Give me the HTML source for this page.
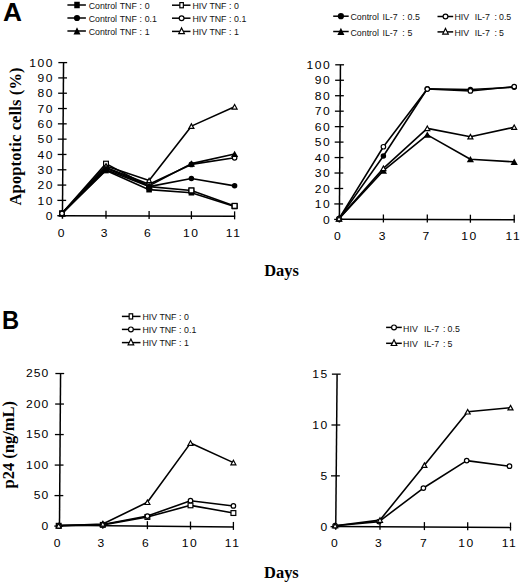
<!DOCTYPE html>
<html><head><meta charset="utf-8"><style>
html,body{margin:0;padding:0;background:#fff;}
body{width:520px;height:584px;overflow:hidden;}
svg{display:block;}
.tl{font-family:"Liberation Sans", sans-serif;font-size:10.8px;letter-spacing:1.36px;fill:#000;}
.lg{font-family:"Liberation Sans", sans-serif;font-size:8.8px;fill:#111;}
.pl{font-family:"Liberation Sans", sans-serif;font-size:25px;font-weight:bold;fill:#000;}
.at{font-family:"Liberation Serif", serif;font-size:16.5px;font-weight:bold;fill:#000;}
</style></head><body>
<svg width="520" height="584" viewBox="0 0 520 584">
<text transform="translate(2.9,20.7) scale(1.05,1)" class="pl">A</text>
<text transform="translate(1.9,328.6) scale(0.95,1)" class="pl">B</text>
<line x1="67.4" y1="5.00" x2="85.9" y2="5.00" stroke="#000" stroke-width="1.5"/>
<rect x="74.25" y="1.75" width="5.5" height="6.5" fill="#000"/>
<text x="88.72" y="8.50" class="lg">Control</text>
<text x="119.68" y="8.50" class="lg">TNF</text>
<text x="139.38" y="8.50" class="lg">:</text>
<text x="144.72" y="8.50" class="lg">0</text>
<line x1="67.4" y1="18.00" x2="85.9" y2="18.00" stroke="#000" stroke-width="1.5"/>
<circle cx="77.00" cy="18.00" r="3.10" fill="#000"/>
<text x="88.72" y="21.60" class="lg">Control</text>
<text x="119.68" y="21.60" class="lg">TNF</text>
<text x="139.38" y="21.60" class="lg">:</text>
<text x="144.72" y="21.60" class="lg">0.1</text>
<line x1="67.4" y1="31.00" x2="85.9" y2="31.00" stroke="#000" stroke-width="1.5"/>
<polygon points="77.00,27.20 80.50,34.40 73.50,34.40" fill="#000"/>
<text x="88.72" y="34.50" class="lg">Control</text>
<text x="119.68" y="34.50" class="lg">TNF</text>
<text x="139.38" y="34.50" class="lg">:</text>
<text x="144.72" y="34.50" class="lg">1</text>
<line x1="172" y1="5.20" x2="190.5" y2="5.20" stroke="#000" stroke-width="1.5"/>
<rect x="179.85" y="2.60" width="3.5" height="5.2" fill="#fff" stroke="#000" stroke-width="1.2"/>
<text x="192.38" y="8.80" class="lg">HIV</text>
<text x="209.38" y="8.80" class="lg">TNF</text>
<text x="228.88" y="8.80" class="lg">:</text>
<text x="234.12" y="8.80" class="lg">0</text>
<line x1="172" y1="18.20" x2="190.5" y2="18.20" stroke="#000" stroke-width="1.5"/>
<circle cx="181.60" cy="18.20" r="2.40" fill="#fff" stroke="#000" stroke-width="1.2"/>
<text x="192.38" y="21.90" class="lg">HIV</text>
<text x="209.38" y="21.90" class="lg">TNF</text>
<text x="228.88" y="21.90" class="lg">:</text>
<text x="234.12" y="21.90" class="lg">0.1</text>
<line x1="172" y1="31.40" x2="190.5" y2="31.40" stroke="#000" stroke-width="1.5"/>
<polygon points="181.60,27.90 184.40,33.60 178.80,33.60" fill="#fff" stroke="#000" stroke-width="1.2" stroke-linejoin="miter" stroke-miterlimit="3"/>
<text x="192.38" y="34.80" class="lg">HIV</text>
<text x="209.38" y="34.80" class="lg">TNF</text>
<text x="228.88" y="34.80" class="lg">:</text>
<text x="234.12" y="34.80" class="lg">1</text>
<line x1="333.2" y1="16.20" x2="348.7" y2="16.20" stroke="#000" stroke-width="1.5"/>
<circle cx="340.90" cy="16.20" r="3.10" fill="#000"/>
<text x="350.52" y="20.10" class="lg">Control</text>
<text x="382.48" y="20.10" class="lg">IL-7</text>
<text x="402.18" y="20.10" class="lg">:</text>
<text x="407.62" y="20.10" class="lg">0.5</text>
<line x1="333.2" y1="31.50" x2="348.7" y2="31.50" stroke="#000" stroke-width="1.5"/>
<polygon points="340.90,27.70 344.40,34.90 337.40,34.90" fill="#000"/>
<text x="350.52" y="35.60" class="lg">Control</text>
<text x="382.48" y="35.60" class="lg">IL-7</text>
<text x="402.18" y="35.60" class="lg">:</text>
<text x="407.62" y="35.60" class="lg">5</text>
<line x1="437.5" y1="16.50" x2="453.2" y2="16.50" stroke="#000" stroke-width="1.5"/>
<circle cx="445.50" cy="16.50" r="2.40" fill="#fff" stroke="#000" stroke-width="1.2"/>
<text x="454.48" y="20.10" class="lg">HIV</text>
<text x="474.78" y="20.10" class="lg">IL-7</text>
<text x="494.48" y="20.10" class="lg">:</text>
<text x="499.02" y="20.10" class="lg">0.5</text>
<line x1="437.5" y1="31.90" x2="453.2" y2="31.90" stroke="#000" stroke-width="1.5"/>
<polygon points="445.50,28.40 448.30,34.10 442.70,34.10" fill="#fff" stroke="#000" stroke-width="1.2" stroke-linejoin="miter" stroke-miterlimit="3"/>
<text x="454.48" y="35.70" class="lg">HIV</text>
<text x="474.78" y="35.70" class="lg">IL-7</text>
<text x="494.48" y="35.70" class="lg">:</text>
<text x="499.02" y="35.70" class="lg">5</text>
<line x1="121.9" y1="316.40" x2="140.5" y2="316.40" stroke="#000" stroke-width="1.5"/>
<rect x="129.15" y="313.80" width="3.5" height="5.2" fill="#fff" stroke="#000" stroke-width="1.2"/>
<text x="142.38" y="320.30" class="lg">HIV</text>
<text x="159.38" y="320.30" class="lg">TNF</text>
<text x="178.88" y="320.30" class="lg">:</text>
<text x="184.12" y="320.30" class="lg">0</text>
<line x1="121.9" y1="329.40" x2="140.5" y2="329.40" stroke="#000" stroke-width="1.5"/>
<circle cx="130.90" cy="329.40" r="2.40" fill="#fff" stroke="#000" stroke-width="1.2"/>
<text x="142.38" y="333.20" class="lg">HIV</text>
<text x="159.38" y="333.20" class="lg">TNF</text>
<text x="178.88" y="333.20" class="lg">:</text>
<text x="184.12" y="333.20" class="lg">0.1</text>
<line x1="121.9" y1="342.60" x2="140.5" y2="342.60" stroke="#000" stroke-width="1.5"/>
<polygon points="130.90,339.10 133.70,344.80 128.10,344.80" fill="#fff" stroke="#000" stroke-width="1.2" stroke-linejoin="miter" stroke-miterlimit="3"/>
<text x="142.38" y="345.70" class="lg">HIV</text>
<text x="159.38" y="345.70" class="lg">TNF</text>
<text x="178.88" y="345.70" class="lg">:</text>
<text x="184.12" y="345.70" class="lg">1</text>
<line x1="386.1" y1="327.40" x2="401.8" y2="327.40" stroke="#000" stroke-width="1.5"/>
<circle cx="394.00" cy="327.40" r="2.40" fill="#fff" stroke="#000" stroke-width="1.2"/>
<text x="403.08" y="331.90" class="lg">HIV</text>
<text x="423.98" y="331.90" class="lg">IL-7</text>
<text x="443.08" y="331.90" class="lg">:</text>
<text x="447.62" y="331.90" class="lg">0.5</text>
<line x1="386.1" y1="343.30" x2="401.8" y2="343.30" stroke="#000" stroke-width="1.5"/>
<polygon points="394.00,339.80 396.80,345.50 391.20,345.50" fill="#fff" stroke="#000" stroke-width="1.2" stroke-linejoin="miter" stroke-miterlimit="3"/>
<text x="403.08" y="347.30" class="lg">HIV</text>
<text x="423.98" y="347.30" class="lg">IL-7</text>
<text x="443.08" y="347.30" class="lg">:</text>
<text x="447.62" y="347.30" class="lg">5</text>
<line x1="63.55" y1="62.6" x2="62.43" y2="218.70" stroke="#000" stroke-width="1.5"/>
<line x1="62.45" y1="215.64" x2="235.20" y2="216.35" stroke="#000" stroke-width="1.5"/>
<line x1="57.25" y1="215.70" x2="66.05" y2="215.70" stroke="#000" stroke-width="1.3"/>
<line x1="57.36" y1="200.39" x2="66.16" y2="200.39" stroke="#000" stroke-width="1.3"/>
<line x1="57.47" y1="185.08" x2="66.27" y2="185.08" stroke="#000" stroke-width="1.3"/>
<line x1="57.58" y1="169.77" x2="66.38" y2="169.77" stroke="#000" stroke-width="1.3"/>
<line x1="57.69" y1="154.46" x2="66.49" y2="154.46" stroke="#000" stroke-width="1.3"/>
<line x1="57.80" y1="139.15" x2="66.60" y2="139.15" stroke="#000" stroke-width="1.3"/>
<line x1="57.91" y1="123.84" x2="66.71" y2="123.84" stroke="#000" stroke-width="1.3"/>
<line x1="58.02" y1="108.53" x2="66.82" y2="108.53" stroke="#000" stroke-width="1.3"/>
<line x1="58.13" y1="93.22" x2="66.93" y2="93.22" stroke="#000" stroke-width="1.3"/>
<line x1="58.24" y1="77.91" x2="67.04" y2="77.91" stroke="#000" stroke-width="1.3"/>
<line x1="58.35" y1="62.60" x2="67.15" y2="62.60" stroke="#000" stroke-width="1.3"/>
<line x1="106" y1="210.82" x2="106" y2="218.82" stroke="#000" stroke-width="1.3"/>
<line x1="149.1" y1="211.00" x2="149.1" y2="219.00" stroke="#000" stroke-width="1.3"/>
<line x1="191.4" y1="211.17" x2="191.4" y2="219.17" stroke="#000" stroke-width="1.3"/>
<line x1="234.6" y1="211.35" x2="234.6" y2="219.35" stroke="#000" stroke-width="1.3"/>
<text transform="translate(53.90,219.90) scale(1.12,1)" class="tl" text-anchor="end">0</text>
<text transform="translate(53.90,204.59) scale(1.12,1)" class="tl" text-anchor="end">10</text>
<text transform="translate(53.90,189.28) scale(1.12,1)" class="tl" text-anchor="end">20</text>
<text transform="translate(53.90,173.97) scale(1.12,1)" class="tl" text-anchor="end">30</text>
<text transform="translate(53.90,158.66) scale(1.12,1)" class="tl" text-anchor="end">40</text>
<text transform="translate(53.90,143.35) scale(1.12,1)" class="tl" text-anchor="end">50</text>
<text transform="translate(53.90,128.04) scale(1.12,1)" class="tl" text-anchor="end">60</text>
<text transform="translate(53.90,112.73) scale(1.12,1)" class="tl" text-anchor="end">70</text>
<text transform="translate(53.90,97.42) scale(1.12,1)" class="tl" text-anchor="end">80</text>
<text transform="translate(53.90,82.11) scale(1.12,1)" class="tl" text-anchor="end">90</text>
<text transform="translate(53.90,66.80) scale(1.12,1)" class="tl" text-anchor="end">100</text>
<text transform="translate(61.90,237) scale(1.12,1)" class="tl" text-anchor="middle">0</text>
<text transform="translate(104.90,237) scale(1.12,1)" class="tl" text-anchor="middle">3</text>
<text transform="translate(148.00,237) scale(1.12,1)" class="tl" text-anchor="middle">6</text>
<text transform="translate(191.20,237) scale(1.12,1)" class="tl" text-anchor="middle">10</text>
<text transform="translate(233.60,237) scale(1.12,1)" class="tl" text-anchor="middle">11</text>
<polyline points="62.00,213.40 106.00,170.54 149.10,189.67 191.40,192.73 234.60,206.51" fill="none" stroke="#000" stroke-width="1.6" stroke-linejoin="round"/>
<polyline points="62.00,213.40 106.00,169.77 149.10,186.61 191.40,178.50 234.60,185.85" fill="none" stroke="#000" stroke-width="1.6" stroke-linejoin="round"/>
<polyline points="62.00,213.40 106.00,168.24 149.10,185.85 191.40,163.65 234.60,154.00" fill="none" stroke="#000" stroke-width="1.6" stroke-linejoin="round"/>
<polyline points="62.00,213.40 106.00,163.65 149.10,186.61 191.40,190.44 234.60,205.90" fill="none" stroke="#000" stroke-width="1.6" stroke-linejoin="round"/>
<polyline points="62.00,213.40 106.00,167.47 149.10,184.31 191.40,164.41 234.60,157.83" fill="none" stroke="#000" stroke-width="1.6" stroke-linejoin="round"/>
<polyline points="62.00,213.40 106.00,165.94 149.10,180.49 191.40,126.14 234.60,106.85" fill="none" stroke="#000" stroke-width="1.6" stroke-linejoin="round"/>
<rect x="59.60" y="211.00" width="4.80" height="4.80" fill="#fff" stroke="#000" stroke-width="1.2"/>
<rect x="103.60" y="161.25" width="4.80" height="4.80" fill="#fff" stroke="#000" stroke-width="1.2"/>
<rect x="146.70" y="184.21" width="4.80" height="4.80" fill="#fff" stroke="#000" stroke-width="1.2"/>
<rect x="189.00" y="188.04" width="4.80" height="4.80" fill="#fff" stroke="#000" stroke-width="1.2"/>
<rect x="232.20" y="203.50" width="4.80" height="4.80" fill="#fff" stroke="#000" stroke-width="1.2"/>
<circle cx="62.00" cy="213.40" r="2.25" fill="#fff" stroke="#000" stroke-width="1.2"/>
<circle cx="106.00" cy="167.47" r="2.25" fill="#fff" stroke="#000" stroke-width="1.2"/>
<circle cx="149.10" cy="184.31" r="2.25" fill="#fff" stroke="#000" stroke-width="1.2"/>
<circle cx="191.40" cy="164.41" r="2.25" fill="#fff" stroke="#000" stroke-width="1.2"/>
<circle cx="234.60" cy="157.83" r="2.25" fill="#fff" stroke="#000" stroke-width="1.2"/>
<polygon points="62.00,211.10 64.50,215.60 59.50,215.60" fill="#fff" stroke="#000" stroke-width="1.2" stroke-linejoin="miter" stroke-miterlimit="3"/>
<polygon points="106.00,163.64 108.50,168.14 103.50,168.14" fill="#fff" stroke="#000" stroke-width="1.2" stroke-linejoin="miter" stroke-miterlimit="3"/>
<polygon points="149.10,178.19 151.60,182.69 146.60,182.69" fill="#fff" stroke="#000" stroke-width="1.2" stroke-linejoin="miter" stroke-miterlimit="3"/>
<polygon points="191.40,123.84 193.90,128.34 188.90,128.34" fill="#fff" stroke="#000" stroke-width="1.2" stroke-linejoin="miter" stroke-miterlimit="3"/>
<polygon points="234.60,104.55 237.10,109.05 232.10,109.05" fill="#fff" stroke="#000" stroke-width="1.2" stroke-linejoin="miter" stroke-miterlimit="3"/>
<rect x="59.20" y="210.60" width="5.60" height="5.60" fill="#000"/>
<rect x="103.20" y="167.74" width="5.60" height="5.60" fill="#000"/>
<rect x="146.30" y="186.87" width="5.60" height="5.60" fill="#000"/>
<rect x="188.60" y="189.93" width="5.60" height="5.60" fill="#000"/>
<rect x="231.80" y="203.71" width="5.60" height="5.60" fill="#000"/>
<circle cx="62.00" cy="213.40" r="2.75" fill="#000"/>
<circle cx="106.00" cy="169.77" r="2.75" fill="#000"/>
<circle cx="149.10" cy="186.61" r="2.75" fill="#000"/>
<circle cx="191.40" cy="178.50" r="2.75" fill="#000"/>
<circle cx="234.60" cy="185.85" r="2.75" fill="#000"/>
<polygon points="62.00,210.10 65.60,216.40 58.40,216.40" fill="#000"/>
<polygon points="106.00,164.94 109.60,171.24 102.40,171.24" fill="#000"/>
<polygon points="149.10,182.55 152.70,188.85 145.50,188.85" fill="#000"/>
<polygon points="191.40,160.35 195.00,166.65 187.80,166.65" fill="#000"/>
<polygon points="234.60,150.70 238.20,157.00 231.00,157.00" fill="#000"/>
<rect x="189.00" y="188.04" width="4.80" height="4.80" fill="#fff" stroke="#000" stroke-width="1.2"/>
<rect x="232.20" y="203.50" width="4.80" height="4.80" fill="#fff" stroke="#000" stroke-width="1.2"/>
<circle cx="62.00" cy="213.40" r="2.25" fill="#fff" stroke="#000" stroke-width="1.2"/>
<line x1="340.44" y1="64.8" x2="339.35" y2="222.40" stroke="#000" stroke-width="1.5"/>
<line x1="339.37" y1="219.35" x2="514.80" y2="219.84" stroke="#000" stroke-width="1.5"/>
<line x1="334.17" y1="219.40" x2="342.97" y2="219.40" stroke="#000" stroke-width="1.3"/>
<line x1="334.28" y1="203.94" x2="343.08" y2="203.94" stroke="#000" stroke-width="1.3"/>
<line x1="334.39" y1="188.48" x2="343.19" y2="188.48" stroke="#000" stroke-width="1.3"/>
<line x1="334.49" y1="173.02" x2="343.29" y2="173.02" stroke="#000" stroke-width="1.3"/>
<line x1="334.60" y1="157.56" x2="343.40" y2="157.56" stroke="#000" stroke-width="1.3"/>
<line x1="334.71" y1="142.10" x2="343.51" y2="142.10" stroke="#000" stroke-width="1.3"/>
<line x1="334.81" y1="126.64" x2="343.61" y2="126.64" stroke="#000" stroke-width="1.3"/>
<line x1="334.92" y1="111.18" x2="343.72" y2="111.18" stroke="#000" stroke-width="1.3"/>
<line x1="335.03" y1="95.72" x2="343.83" y2="95.72" stroke="#000" stroke-width="1.3"/>
<line x1="335.14" y1="80.26" x2="343.94" y2="80.26" stroke="#000" stroke-width="1.3"/>
<line x1="335.24" y1="64.80" x2="344.04" y2="64.80" stroke="#000" stroke-width="1.3"/>
<line x1="383.4" y1="214.47" x2="383.4" y2="222.47" stroke="#000" stroke-width="1.3"/>
<line x1="427.3" y1="214.60" x2="427.3" y2="222.60" stroke="#000" stroke-width="1.3"/>
<line x1="470.4" y1="214.72" x2="470.4" y2="222.72" stroke="#000" stroke-width="1.3"/>
<line x1="514.2" y1="214.84" x2="514.2" y2="222.84" stroke="#000" stroke-width="1.3"/>
<text transform="translate(331.30,223.60) scale(1.12,1)" class="tl" text-anchor="end">0</text>
<text transform="translate(331.30,208.14) scale(1.12,1)" class="tl" text-anchor="end">10</text>
<text transform="translate(331.30,192.68) scale(1.12,1)" class="tl" text-anchor="end">20</text>
<text transform="translate(331.30,177.22) scale(1.12,1)" class="tl" text-anchor="end">30</text>
<text transform="translate(331.30,161.76) scale(1.12,1)" class="tl" text-anchor="end">40</text>
<text transform="translate(331.30,146.30) scale(1.12,1)" class="tl" text-anchor="end">50</text>
<text transform="translate(331.30,130.84) scale(1.12,1)" class="tl" text-anchor="end">60</text>
<text transform="translate(331.30,115.38) scale(1.12,1)" class="tl" text-anchor="end">70</text>
<text transform="translate(331.30,99.92) scale(1.12,1)" class="tl" text-anchor="end">80</text>
<text transform="translate(331.30,84.46) scale(1.12,1)" class="tl" text-anchor="end">90</text>
<text transform="translate(331.30,69.00) scale(1.12,1)" class="tl" text-anchor="end">100</text>
<text transform="translate(338.00,240.4) scale(1.12,1)" class="tl" text-anchor="middle">0</text>
<text transform="translate(382.80,240.4) scale(1.12,1)" class="tl" text-anchor="middle">3</text>
<text transform="translate(426.50,240.4) scale(1.12,1)" class="tl" text-anchor="middle">7</text>
<text transform="translate(469.40,240.4) scale(1.12,1)" class="tl" text-anchor="middle">10</text>
<text transform="translate(513.40,240.4) scale(1.12,1)" class="tl" text-anchor="middle">11</text>
<polyline points="339.00,218.63 383.40,156.01 427.30,88.76 470.40,89.54 514.20,87.22" fill="none" stroke="#000" stroke-width="1.6" stroke-linejoin="round"/>
<polyline points="339.00,218.63 383.40,170.70 427.30,134.83 470.40,159.26 514.20,161.89" fill="none" stroke="#000" stroke-width="1.6" stroke-linejoin="round"/>
<polyline points="339.00,218.63 383.40,146.74 427.30,89.07 470.40,90.93 514.20,86.60" fill="none" stroke="#000" stroke-width="1.6" stroke-linejoin="round"/>
<polyline points="339.00,218.63 383.40,168.38 427.30,128.34 470.40,136.69 514.20,127.26" fill="none" stroke="#000" stroke-width="1.6" stroke-linejoin="round"/>
<circle cx="339.00" cy="218.63" r="2.75" fill="#000"/>
<circle cx="383.40" cy="156.01" r="2.75" fill="#000"/>
<circle cx="427.30" cy="88.76" r="2.75" fill="#000"/>
<circle cx="470.40" cy="89.54" r="2.75" fill="#000"/>
<circle cx="514.20" cy="87.22" r="2.75" fill="#000"/>
<polygon points="339.00,215.33 342.60,221.63 335.40,221.63" fill="#000"/>
<polygon points="383.40,167.40 387.00,173.70 379.80,173.70" fill="#000"/>
<polygon points="427.30,131.53 430.90,137.83 423.70,137.83" fill="#000"/>
<polygon points="470.40,155.96 474.00,162.26 466.80,162.26" fill="#000"/>
<polygon points="514.20,158.59 517.80,164.89 510.60,164.89" fill="#000"/>
<circle cx="339.00" cy="218.63" r="2.25" fill="#fff" stroke="#000" stroke-width="1.2"/>
<circle cx="383.40" cy="146.74" r="2.25" fill="#fff" stroke="#000" stroke-width="1.2"/>
<circle cx="427.30" cy="89.07" r="2.25" fill="#fff" stroke="#000" stroke-width="1.2"/>
<circle cx="470.40" cy="90.93" r="2.25" fill="#fff" stroke="#000" stroke-width="1.2"/>
<circle cx="514.20" cy="86.60" r="2.25" fill="#fff" stroke="#000" stroke-width="1.2"/>
<polygon points="339.00,216.33 341.50,220.83 336.50,220.83" fill="#fff" stroke="#000" stroke-width="1.2" stroke-linejoin="miter" stroke-miterlimit="3"/>
<polygon points="383.40,166.08 385.90,170.58 380.90,170.58" fill="#fff" stroke="#000" stroke-width="1.2" stroke-linejoin="miter" stroke-miterlimit="3"/>
<polygon points="427.30,126.04 429.80,130.54 424.80,130.54" fill="#fff" stroke="#000" stroke-width="1.2" stroke-linejoin="miter" stroke-miterlimit="3"/>
<polygon points="470.40,134.39 472.90,138.89 467.90,138.89" fill="#fff" stroke="#000" stroke-width="1.2" stroke-linejoin="miter" stroke-miterlimit="3"/>
<polygon points="514.20,124.96 516.70,129.46 511.70,129.46" fill="#fff" stroke="#000" stroke-width="1.2" stroke-linejoin="miter" stroke-miterlimit="3"/>
<line x1="60.57" y1="373.5" x2="59.46" y2="529.10" stroke="#000" stroke-width="1.5"/>
<line x1="59.49" y1="525.36" x2="234.00" y2="526.94" stroke="#000" stroke-width="1.5"/>
<line x1="54.29" y1="526.10" x2="63.09" y2="526.10" stroke="#000" stroke-width="1.3"/>
<line x1="54.50" y1="495.59" x2="63.30" y2="495.59" stroke="#000" stroke-width="1.3"/>
<line x1="54.72" y1="465.07" x2="63.52" y2="465.07" stroke="#000" stroke-width="1.3"/>
<line x1="54.93" y1="434.56" x2="63.73" y2="434.56" stroke="#000" stroke-width="1.3"/>
<line x1="55.15" y1="404.04" x2="63.95" y2="404.04" stroke="#000" stroke-width="1.3"/>
<line x1="55.37" y1="373.53" x2="64.17" y2="373.53" stroke="#000" stroke-width="1.3"/>
<line x1="102.8" y1="520.75" x2="102.8" y2="528.75" stroke="#000" stroke-width="1.3"/>
<line x1="147.4" y1="521.15" x2="147.4" y2="529.15" stroke="#000" stroke-width="1.3"/>
<line x1="190.5" y1="521.54" x2="190.5" y2="529.54" stroke="#000" stroke-width="1.3"/>
<line x1="233.4" y1="521.93" x2="233.4" y2="529.93" stroke="#000" stroke-width="1.3"/>
<text transform="translate(49.30,529.90) scale(1.12,1)" class="tl" text-anchor="end" style="letter-spacing:0.95px">0</text>
<text transform="translate(49.30,499.39) scale(1.12,1)" class="tl" text-anchor="end" style="letter-spacing:0.95px">50</text>
<text transform="translate(49.30,468.87) scale(1.12,1)" class="tl" text-anchor="end" style="letter-spacing:0.95px">100</text>
<text transform="translate(49.30,438.36) scale(1.12,1)" class="tl" text-anchor="end" style="letter-spacing:0.95px">150</text>
<text transform="translate(49.30,407.84) scale(1.12,1)" class="tl" text-anchor="end" style="letter-spacing:0.95px">200</text>
<text transform="translate(49.30,377.33) scale(1.12,1)" class="tl" text-anchor="end" style="letter-spacing:0.95px">250</text>
<text transform="translate(57.90,547) scale(1.12,1)" class="tl" text-anchor="middle">0</text>
<text transform="translate(101.55,547) scale(1.12,1)" class="tl" text-anchor="middle">3</text>
<text transform="translate(146.10,547) scale(1.12,1)" class="tl" text-anchor="middle">6</text>
<text transform="translate(190.00,547) scale(1.12,1)" class="tl" text-anchor="middle">10</text>
<text transform="translate(232.60,547) scale(1.12,1)" class="tl" text-anchor="middle">11</text>
<polyline points="58.70,525.79 102.80,524.88 147.40,516.95 190.50,505.35 233.40,513.04" fill="none" stroke="#000" stroke-width="1.6" stroke-linejoin="round"/>
<polyline points="58.70,525.79 102.80,524.57 147.40,516.03 190.50,500.71 233.40,505.96" fill="none" stroke="#000" stroke-width="1.6" stroke-linejoin="round"/>
<polyline points="58.70,525.79 102.80,523.96 147.40,502.30 190.50,443.10 233.40,462.63" fill="none" stroke="#000" stroke-width="1.6" stroke-linejoin="round"/>
<rect x="56.30" y="523.39" width="4.80" height="4.80" fill="#fff" stroke="#000" stroke-width="1.2"/>
<rect x="100.40" y="522.48" width="4.80" height="4.80" fill="#fff" stroke="#000" stroke-width="1.2"/>
<rect x="145.00" y="514.55" width="4.80" height="4.80" fill="#fff" stroke="#000" stroke-width="1.2"/>
<rect x="188.10" y="502.95" width="4.80" height="4.80" fill="#fff" stroke="#000" stroke-width="1.2"/>
<rect x="231.00" y="510.64" width="4.80" height="4.80" fill="#fff" stroke="#000" stroke-width="1.2"/>
<circle cx="58.70" cy="525.79" r="2.25" fill="#fff" stroke="#000" stroke-width="1.2"/>
<circle cx="102.80" cy="524.57" r="2.25" fill="#fff" stroke="#000" stroke-width="1.2"/>
<circle cx="147.40" cy="516.03" r="2.25" fill="#fff" stroke="#000" stroke-width="1.2"/>
<circle cx="190.50" cy="500.71" r="2.25" fill="#fff" stroke="#000" stroke-width="1.2"/>
<circle cx="233.40" cy="505.96" r="2.25" fill="#fff" stroke="#000" stroke-width="1.2"/>
<polygon points="58.70,523.49 61.20,527.99 56.20,527.99" fill="#fff" stroke="#000" stroke-width="1.2" stroke-linejoin="miter" stroke-miterlimit="3"/>
<polygon points="102.80,521.66 105.30,526.16 100.30,526.16" fill="#fff" stroke="#000" stroke-width="1.2" stroke-linejoin="miter" stroke-miterlimit="3"/>
<polygon points="147.40,500.00 149.90,504.50 144.90,504.50" fill="#fff" stroke="#000" stroke-width="1.2" stroke-linejoin="miter" stroke-miterlimit="3"/>
<polygon points="190.50,440.80 193.00,445.30 188.00,445.30" fill="#fff" stroke="#000" stroke-width="1.2" stroke-linejoin="miter" stroke-miterlimit="3"/>
<polygon points="233.40,460.33 235.90,464.83 230.90,464.83" fill="#fff" stroke="#000" stroke-width="1.2" stroke-linejoin="miter" stroke-miterlimit="3"/>
<line x1="337.10" y1="374.2" x2="335.73" y2="529.70" stroke="#000" stroke-width="1.5"/>
<line x1="335.75" y1="526.59" x2="511.10" y2="527.59" stroke="#000" stroke-width="1.5"/>
<line x1="330.55" y1="526.70" x2="339.35" y2="526.70" stroke="#000" stroke-width="1.3"/>
<line x1="331.00" y1="475.85" x2="339.80" y2="475.85" stroke="#000" stroke-width="1.3"/>
<line x1="331.45" y1="425.00" x2="340.25" y2="425.00" stroke="#000" stroke-width="1.3"/>
<line x1="331.90" y1="374.15" x2="340.70" y2="374.15" stroke="#000" stroke-width="1.3"/>
<line x1="380" y1="521.84" x2="380" y2="529.84" stroke="#000" stroke-width="1.3"/>
<line x1="424.4" y1="522.10" x2="424.4" y2="530.10" stroke="#000" stroke-width="1.3"/>
<line x1="467.7" y1="522.34" x2="467.7" y2="530.34" stroke="#000" stroke-width="1.3"/>
<line x1="510.5" y1="522.59" x2="510.5" y2="530.59" stroke="#000" stroke-width="1.3"/>
<text transform="translate(328.70,530.90) scale(1.12,1)" class="tl" text-anchor="end">0</text>
<text transform="translate(328.70,480.05) scale(1.12,1)" class="tl" text-anchor="end">5</text>
<text transform="translate(328.70,429.20) scale(1.12,1)" class="tl" text-anchor="end">10</text>
<text transform="translate(328.70,378.35) scale(1.12,1)" class="tl" text-anchor="end">15</text>
<text transform="translate(335.10,546.5) scale(1.12,1)" class="tl" text-anchor="middle">0</text>
<text transform="translate(379.10,546.5) scale(1.12,1)" class="tl" text-anchor="middle">3</text>
<text transform="translate(424.10,546.5) scale(1.12,1)" class="tl" text-anchor="middle">7</text>
<text transform="translate(466.50,546.5) scale(1.12,1)" class="tl" text-anchor="middle">10</text>
<text transform="translate(509.50,546.5) scale(1.12,1)" class="tl" text-anchor="middle">11</text>
<polyline points="335.10,525.68 379.00,521.62 423.40,488.05 466.70,460.60 509.50,466.19" fill="none" stroke="#000" stroke-width="1.6" stroke-linejoin="round"/>
<polyline points="335.10,525.68 380.00,520.09 424.40,465.17 467.70,411.78 510.50,407.71" fill="none" stroke="#000" stroke-width="1.6" stroke-linejoin="round"/>
<circle cx="335.10" cy="525.68" r="2.25" fill="#fff" stroke="#000" stroke-width="1.2"/>
<circle cx="379.00" cy="521.62" r="2.25" fill="#fff" stroke="#000" stroke-width="1.2"/>
<circle cx="423.40" cy="488.05" r="2.25" fill="#fff" stroke="#000" stroke-width="1.2"/>
<circle cx="466.70" cy="460.60" r="2.25" fill="#fff" stroke="#000" stroke-width="1.2"/>
<circle cx="509.50" cy="466.19" r="2.25" fill="#fff" stroke="#000" stroke-width="1.2"/>
<polygon points="335.10,523.38 337.60,527.88 332.60,527.88" fill="#fff" stroke="#000" stroke-width="1.2" stroke-linejoin="miter" stroke-miterlimit="3"/>
<polygon points="380.00,517.79 382.50,522.29 377.50,522.29" fill="#fff" stroke="#000" stroke-width="1.2" stroke-linejoin="miter" stroke-miterlimit="3"/>
<polygon points="424.40,462.87 426.90,467.37 421.90,467.37" fill="#fff" stroke="#000" stroke-width="1.2" stroke-linejoin="miter" stroke-miterlimit="3"/>
<polygon points="467.70,409.48 470.20,413.98 465.20,413.98" fill="#fff" stroke="#000" stroke-width="1.2" stroke-linejoin="miter" stroke-miterlimit="3"/>
<polygon points="510.50,405.41 513.00,409.91 508.00,409.91" fill="#fff" stroke="#000" stroke-width="1.2" stroke-linejoin="miter" stroke-miterlimit="3"/>
<text transform="translate(281.6,276.2) scale(0.95,1)" class="at" text-anchor="middle" style="font-size:17.3px">Days</text>
<text transform="translate(281.4,577.8) scale(0.95,1)" class="at" text-anchor="middle" style="font-size:17.3px">Days</text>
<text transform="translate(20.5,136.4) rotate(-90)" class="at" text-anchor="middle" style="letter-spacing:0.13px">Apoptotic cells (%)</text>
<text transform="translate(13.6,444.75) rotate(-90)" class="at" text-anchor="middle">p24 (ng/mL)</text>
</svg>
</body></html>
